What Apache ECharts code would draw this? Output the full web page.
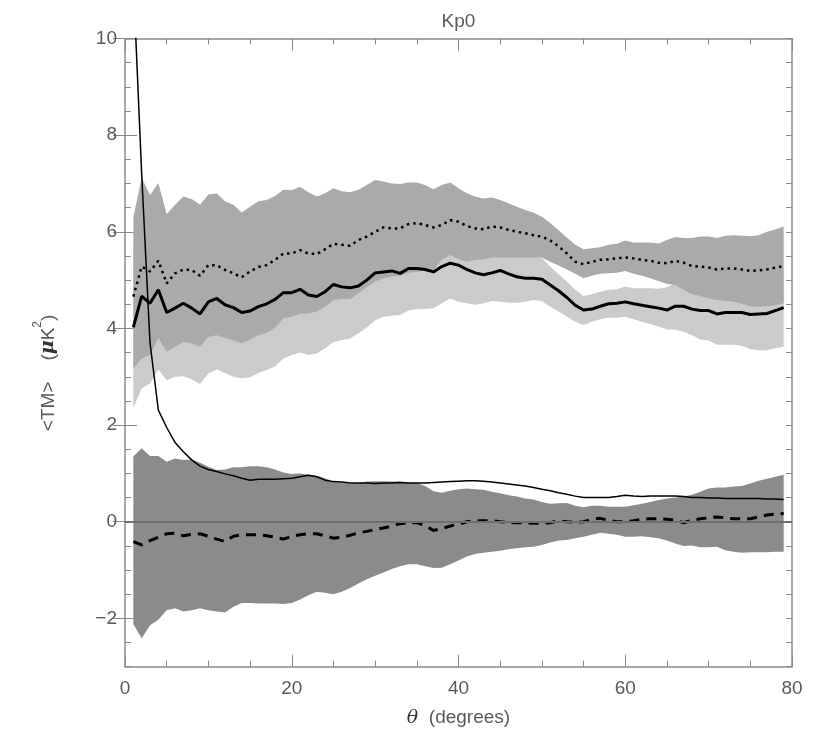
<!DOCTYPE html>
<html>
<head>
<meta charset="utf-8">
<script src="https://cdn.jsdelivr.net/npm/echarts@6/dist/echarts.min.js"></script>
<style>html,body{margin:0;padding:0;background:#fff;}#c{width:830px;height:746px;}</style>
</head>
<body>
<div id="c"></div>
<script>
// theta bins (degrees)
var theta = [1,2,3,4,5,6,7,8,9,10,11,12,13,14,15,16,17,18,19,20,21,22,23,24,25,26,27,28,29,30,31,32,33,34,35,36,37,38,39,40,41,42,43,44,45,46,47,48,49,50,51,52,53,54,55,56,57,58,59,60,61,62,63,64,65,66,67,68,69,70,71,72,73,74,75,76,77,78,79];

// upper (medium grey) band around dotted curve
var darkHi = [6.30,7.12,6.76,7.01,6.37,6.56,6.73,6.68,6.56,6.77,6.79,6.63,6.56,6.40,6.52,6.63,6.66,6.74,6.87,6.86,6.93,6.82,6.73,6.80,6.90,6.84,6.82,6.87,6.97,7.07,7.04,7.00,6.99,7.02,7.02,6.97,6.88,6.97,7.02,6.90,6.80,6.73,6.69,6.71,6.66,6.59,6.52,6.45,6.40,6.31,6.18,6.03,5.88,5.73,5.64,5.66,5.68,5.73,5.75,5.82,5.78,5.78,5.78,5.76,5.83,5.89,5.87,5.87,5.90,5.90,5.87,5.92,5.93,5.92,5.91,5.93,6.00,6.05,6.11];
var darkLo = [3.17,3.38,3.45,3.80,3.52,3.62,3.72,3.69,3.62,3.83,3.86,3.80,3.75,3.69,3.77,3.86,3.91,4.02,4.21,4.24,4.31,4.31,4.35,4.45,4.59,4.61,4.61,4.73,4.85,4.97,5.04,5.07,5.09,5.15,5.17,5.21,5.21,5.42,5.52,5.43,5.38,5.42,5.43,5.47,5.47,5.47,5.47,5.47,5.47,5.47,5.38,5.30,5.22,5.13,5.04,5.09,5.13,5.14,5.15,5.19,5.13,5.09,5.04,4.98,4.92,4.90,4.80,4.71,4.67,4.62,4.59,4.57,4.55,4.51,4.46,4.45,4.46,4.48,4.52];

// light grey band around thick solid curve
var lightHi = [5.69,6.58,6.18,6.45,5.73,5.84,6.03,5.89,5.75,6.03,6.09,5.90,5.86,5.69,5.73,5.82,5.88,5.98,6.10,6.03,6.12,5.93,5.84,5.93,6.10,5.96,5.89,5.86,5.98,6.13,6.10,6.12,6.00,6.11,6.08,6.04,5.92,6.04,6.08,6.07,5.92,5.81,5.70,5.73,5.85,5.73,5.61,5.53,5.49,5.46,5.28,5.12,4.97,4.80,4.67,4.71,4.76,4.80,4.81,4.87,4.83,4.83,4.83,4.82,4.85,4.94,4.99,4.94,4.97,4.99,4.94,5.00,5.00,5.02,5.01,5.05,5.07,5.15,5.24];
var lightLo = [2.35,2.76,2.86,3.15,2.93,3.00,3.01,2.95,2.85,3.07,3.15,3.08,3.00,2.97,2.99,3.08,3.14,3.22,3.38,3.45,3.50,3.45,3.48,3.59,3.72,3.76,3.79,3.90,4.02,4.17,4.24,4.26,4.28,4.37,4.40,4.40,4.42,4.52,4.62,4.55,4.52,4.49,4.52,4.57,4.55,4.53,4.53,4.55,4.59,4.57,4.45,4.35,4.24,4.14,4.07,4.14,4.19,4.22,4.22,4.24,4.19,4.14,4.09,4.04,3.98,3.98,3.93,3.86,3.77,3.75,3.66,3.66,3.66,3.64,3.57,3.55,3.55,3.59,3.62];

// lower (dark grey) band around dashed curve
var lowHi = [1.35,1.52,1.36,1.36,1.24,1.31,1.28,1.29,1.22,1.14,1.07,1.08,1.13,1.13,1.15,1.15,1.13,1.08,1.02,0.99,1.00,0.97,0.95,0.90,0.83,0.80,0.79,0.80,0.83,0.84,0.84,0.83,0.83,0.81,0.80,0.74,0.63,0.60,0.64,0.67,0.69,0.67,0.66,0.62,0.59,0.55,0.52,0.48,0.46,0.41,0.37,0.38,0.39,0.33,0.30,0.33,0.33,0.31,0.31,0.31,0.34,0.37,0.41,0.45,0.48,0.50,0.52,0.56,0.62,0.69,0.71,0.71,0.73,0.74,0.79,0.85,0.89,0.93,0.97];
var lowLo = [-2.12,-2.41,-2.14,-2.03,-1.83,-1.79,-1.86,-1.83,-1.79,-1.83,-1.86,-1.88,-1.76,-1.68,-1.68,-1.69,-1.69,-1.69,-1.70,-1.68,-1.61,-1.52,-1.45,-1.47,-1.50,-1.45,-1.37,-1.28,-1.19,-1.12,-1.05,-0.98,-0.92,-0.88,-0.88,-0.92,-0.96,-0.95,-0.88,-0.80,-0.72,-0.67,-0.64,-0.62,-0.60,-0.57,-0.55,-0.53,-0.52,-0.48,-0.43,-0.39,-0.38,-0.34,-0.31,-0.27,-0.23,-0.25,-0.27,-0.31,-0.31,-0.30,-0.32,-0.34,-0.39,-0.45,-0.50,-0.49,-0.53,-0.53,-0.52,-0.59,-0.62,-0.64,-0.63,-0.63,-0.63,-0.62,-0.62];

// curves
var dotted = [4.66,5.28,5.18,5.40,4.93,5.14,5.22,5.21,5.09,5.31,5.31,5.21,5.14,5.06,5.18,5.27,5.31,5.42,5.55,5.55,5.62,5.55,5.54,5.64,5.75,5.73,5.71,5.83,5.90,6.00,6.09,6.07,6.07,6.16,6.18,6.14,6.09,6.14,6.24,6.21,6.12,6.07,6.05,6.11,6.09,6.04,6.00,5.97,5.93,5.90,5.82,5.70,5.55,5.38,5.33,5.38,5.42,5.43,5.45,5.47,5.45,5.42,5.40,5.36,5.35,5.40,5.36,5.29,5.28,5.26,5.22,5.24,5.24,5.22,5.19,5.20,5.22,5.26,5.29];
var thick = [4.02,4.67,4.52,4.80,4.33,4.42,4.52,4.42,4.30,4.55,4.62,4.49,4.43,4.33,4.36,4.45,4.51,4.60,4.74,4.74,4.81,4.69,4.66,4.76,4.91,4.86,4.84,4.88,5.00,5.15,5.17,5.19,5.14,5.24,5.24,5.22,5.17,5.28,5.35,5.31,5.22,5.15,5.11,5.15,5.20,5.13,5.07,5.04,5.04,5.02,4.90,4.78,4.64,4.48,4.38,4.40,4.46,4.51,4.52,4.55,4.51,4.48,4.45,4.42,4.38,4.46,4.46,4.40,4.37,4.37,4.30,4.33,4.33,4.33,4.29,4.30,4.31,4.37,4.43];
var thin = [11.2,7.2,3.7,2.31,1.95,1.64,1.45,1.28,1.15,1.08,1.04,0.99,0.95,0.90,0.86,0.88,0.88,0.88,0.89,0.90,0.93,0.96,0.93,0.86,0.83,0.82,0.80,0.80,0.80,0.79,0.80,0.80,0.81,0.80,0.80,0.80,0.81,0.82,0.83,0.84,0.85,0.85,0.84,0.82,0.80,0.78,0.76,0.74,0.71,0.67,0.64,0.60,0.57,0.53,0.50,0.50,0.50,0.50,0.52,0.55,0.53,0.52,0.53,0.53,0.53,0.53,0.52,0.50,0.50,0.49,0.49,0.48,0.48,0.48,0.48,0.48,0.47,0.47,0.46];
var dashed = [-0.41,-0.48,-0.39,-0.32,-0.25,-0.24,-0.29,-0.26,-0.25,-0.30,-0.36,-0.41,-0.30,-0.27,-0.27,-0.27,-0.29,-0.32,-0.36,-0.30,-0.27,-0.25,-0.25,-0.29,-0.34,-0.32,-0.28,-0.23,-0.20,-0.16,-0.13,-0.09,-0.04,-0.02,-0.02,-0.08,-0.18,-0.14,-0.09,-0.05,0.00,0.02,0.02,0.02,0.00,-0.01,-0.02,-0.02,-0.03,-0.03,-0.02,0.02,0.00,-0.01,0.00,0.05,0.07,0.03,0.00,0.00,0.02,0.05,0.06,0.06,0.05,0.03,-0.02,0.03,0.06,0.08,0.10,0.08,0.06,0.06,0.06,0.10,0.14,0.16,0.17];

// ticks
var yMajorTicks = [-2,0,2,4,6,8,10];

function pairs(ys){ return theta.map(function(t,i){ return [t, ys[i]]; }); }
function bandRows(lo, hi){ return theta.map(function(t,i){ return [t, lo[i], hi[i]]; }); }

var TXT = '#5a5a5a';
var FONT = 'Liberation Sans';
var AX = '#8a8a8a';

function xAx(pos, labels){
  return {
    type:'value', min:0, max:80, interval:20, position:pos,
    axisLine:{show:true, onZero:false, lineStyle:{color:AX, width:1.5}},
    axisTick:{show:true, inside:true, length:12, lineStyle:{color:AX, width:1}},
    minorTick:{show:true, splitNumber:4, length:6, lineStyle:{color:AX, width:1}},
    axisLabel:{show:labels, margin:13, color:TXT, fontFamily:FONT, fontSize:19},
    splitLine:{show:false}, minorSplitLine:{show:false}
  };
}
function yMinor(pos, labels){
  return {
    type:'value', min:-3, max:10, interval:0.5, position:pos,
    axisLine:{show:true, onZero:false, lineStyle:{color:AX, width:1.5}},
    axisTick:{show:true, inside:true, length:6, lineStyle:{color:AX, width:1}},
    axisLabel:{show:labels, margin:8, color:TXT, fontFamily:FONT, fontSize:19,
      formatter:function(v){ return yMajorTicks.indexOf(v) >= 0 ? (v < 0 ? '\u2212' + (-v) : String(v)) : ''; }},
    splitLine:{show:false}
  };
}
function yMajor(pos){
  return {
    type:'value', min:-3, max:10, position:pos,
    axisLine:{show:false},
    axisTick:{show:true, inside:true, length:12, customValues:yMajorTicks, lineStyle:{color:AX, width:1}},
    axisLabel:{show:false},
    splitLine:{show:false}
  };
}

function band(name, lo, hi, color){
  var rows = bandRows(lo, hi);
  return {
    type:'custom', name:name, silent:true, xAxisIndex:0, yAxisIndex:0,
    data:rows, encode:{x:0, y:[1,2]},
    renderItem:function(params, api){
      if (params.dataIndex !== 0) return null;
      var pts = [];
      for (var i = 0; i < rows.length; i++) pts.push(api.coord([rows[i][0], rows[i][2]]));
      for (var j = rows.length - 1; j >= 0; j--) pts.push(api.coord([rows[j][0], rows[j][1]]));
      return {type:'polygon', shape:{points:pts}, style:{fill:color, stroke:null}};
    }
  };
}
function curve(name, ys, ls){
  return {type:'line', name:name, symbol:'none', showSymbol:false, silent:true, xAxisIndex:0, yAxisIndex:0,
          data:pairs(ys), lineStyle:ls, z:3};
}

var series = [
  band('lightBand', lightLo, lightHi, '#cbcbcb'),
  band('darkBand', darkLo, darkHi, '#aaaaaa'),
  band('lowBand', lowLo, lowHi, '#8b8b8b'),
  {type:'line', name:'zero', data:[], symbol:'none', silent:true, xAxisIndex:0, yAxisIndex:0, z:2,
   markLine:{silent:true, symbol:'none', label:{show:false}, lineStyle:{color:'#6e6e6e', width:2, type:'solid'}, data:[{yAxis:0}], animation:false}},
  curve('dashed', dashed, {color:'#000', width:3, type:[10,7], cap:'butt'}),
  curve('thin', thin, {color:'#000', width:1.5}),
  curve('dotted', dotted, {color:'#000', width:2.5, type:[2.5,4], cap:'butt'}),
  curve('thick', thick, {color:'#000', width:3})
];

var chart = echarts.init(document.getElementById('c'), null, {renderer:'canvas'});
chart.setOption({
  animation:false,
  backgroundColor:'#fff',
  grid:{left:125, right:38, top:38.5, bottom:79.3, containLabel:false, outerBoundsMode:'none'},
  xAxis:[xAx('bottom', true), xAx('top', false)],
  yAxis:[yMinor('left', true), yMinor('right', false), yMajor('left'), yMajor('right')],
  series:series,
  graphic:[
    {type:'text', x:458.5, y:22, style:{text:'Kp0', fill:TXT, font:'19px "Liberation Sans"', align:'center', verticalAlign:'middle'}},
    {type:'text', x:458.5, y:718, style:{text:'{t|\u03b8}{a|  (degrees)}', align:'center', verticalAlign:'middle',
      rich:{t:{fill:'#333', fontFamily:'DejaVu Serif', fontStyle:'italic', fontSize:19}, a:{fill:TXT, fontFamily:FONT, fontSize:19}}}},
    {type:'text', x:45, y:373, rotation:Math.PI/2, style:{text:'{a|<TM>    (}{m|\u03bc}{a|K}{s|2}{a|)}', align:'center', verticalAlign:'middle',
      rich:{a:{fill:TXT, fontFamily:FONT, fontSize:19, lineHeight:26, verticalAlign:'bottom'},
            m:{fill:'#333', fontFamily:'DejaVu Serif', fontStyle:'italic', fontWeight:'bold', fontSize:19, lineHeight:26, verticalAlign:'bottom'},
            s:{fill:TXT, fontFamily:FONT, fontSize:12, lineHeight:26, verticalAlign:'top'}}}}
  ]
});
</script>
</body>
</html>
